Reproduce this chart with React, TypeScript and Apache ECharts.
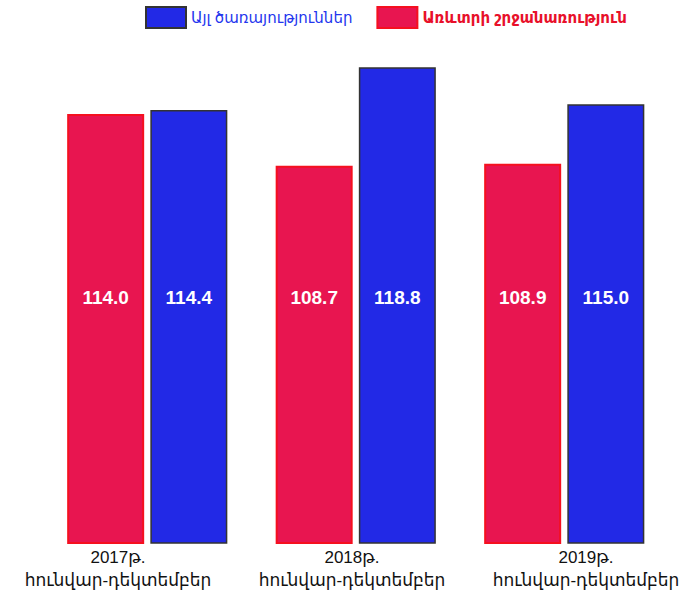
import React, { useEffect, useRef } from "react";
import * as echarts from "echarts";

const categories = ["2017թ.\nհունվար-դեկտեմբեր", "2018թ.\nհունվար-դեկտեմբեր", "2019թ.\nհունվար-դեկտեմբեր"];
const tradeName = "Առևտրի շրջանառություն";
const servicesName = "Այլ ծառայություններ";
const tradeValues = [114.0, 108.7, 108.9];
const servicesValues = [114.4, 118.8, 115.0];

const FONT = "'Liberation Sans', Arial, 'DejaVu Sans', sans-serif";

export default function App() {
  const ref = useRef<HTMLDivElement>(null);
  useEffect(() => {
    if (!ref.current) return;
    const chart = echarts.init(ref.current, undefined, { renderer: "svg" });
    const valueLabel = {
      show: true,
      position: "insideBottom",
      distance: 237,
      color: "#ffffff",
      fontSize: 19,
      fontWeight: "bold",
      fontFamily: FONT,
      formatter: (p: any) => Number(p.value).toFixed(1),
    };
    chart.setOption({
      animation: false,
      backgroundColor: "#ffffff",
      legend: {
        top: 6,
        left: 145,
        padding: 0,
        icon: "rect",
        itemWidth: 40,
        itemHeight: 21,
        itemGap: 24,
        data: [
          { name: servicesName, textStyle: { color: "#2336ee", fontSize: 15, fontFamily: FONT } },
          { name: tradeName, textStyle: { color: "#e8102a", fontSize: 15, fontFamily: FONT, fontWeight: "bold" } },
        ],
      },
      grid: [
        { left: 43, width: 625.5, top: 55.5, bottom: 52, outerBoundsMode: "none", containLabel: false },
        { left: 1, width: 702, top: 55.5, bottom: 52, outerBoundsMode: "none", containLabel: false },
      ],
      xAxis: [
        {
          type: "category",
          gridIndex: 0,
          data: categories,
          axisLine: { show: false },
          axisTick: { show: false },
          axisLabel: { show: false },
        },
        {
          type: "category",
          gridIndex: 1,
          data: categories,
          axisLine: { show: false },
          axisTick: { show: false },
          axisLabel: {
            show: true,
            interval: 0,
            hideOverlap: false,
            margin: 3,
            color: "#111111",
            fontSize: 17,
            lineHeight: 23,
            fontFamily: FONT,
          },
        },
      ],
      yAxis: [
        { type: "value", gridIndex: 0, min: 70, max: 120, show: false },
        { type: "value", gridIndex: 1, min: 70, max: 120, show: false },
      ],
      series: [
        {
          name: tradeName,
          type: "bar",
          xAxisIndex: 0,
          yAxisIndex: 0,
          data: tradeValues,
          barWidth: 77,
          barGap: "8%",
          itemStyle: { color: "#e81550", borderColor: "#f5101f", borderWidth: 2 },
          label: valueLabel,
        },
        {
          name: servicesName,
          type: "bar",
          xAxisIndex: 0,
          yAxisIndex: 0,
          data: servicesValues,
          barWidth: 77,
          barGap: "8%",
          itemStyle: { color: "#2229e6", borderColor: "#333333", borderWidth: 1.5 },
          label: valueLabel,
        },
      ],
    });
    return () => chart.dispose();
  }, []);
  return <div ref={ref} style={{ width: 679, height: 595, position: "absolute", left: 0, top: 0 }} />;
}
